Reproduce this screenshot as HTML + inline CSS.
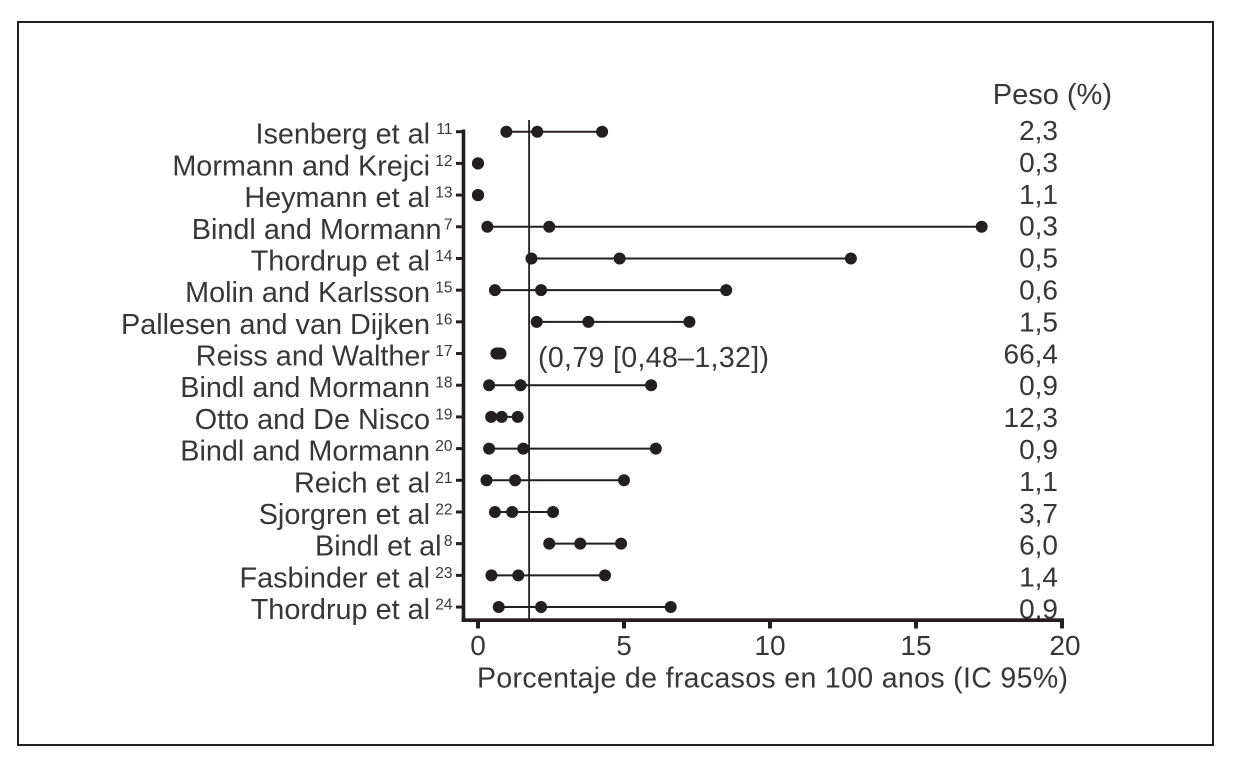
<!DOCTYPE html>
<html lang="es">
<head>
<meta charset="utf-8">
<title>Porcentaje de fracasos en 100 anos</title>
<style>
html,body{margin:0;padding:0;background:#fff;}
svg{display:block;}
text{font-family:"Liberation Sans",Arial,sans-serif;fill:#383737;}
</style>
</head>
<body>
<svg id="chart" width="1233" height="779" viewBox="0 0 1233 779" xmlns="http://www.w3.org/2000/svg">
  <rect x="18" y="22" width="1195" height="723" fill="#fff" stroke="#231f20" stroke-width="2"></rect>
  <text x="1112" y="104" text-anchor="end" font-size="29">Peso (%)</text>
  <text x="477" y="687.5" font-size="28.5" textLength="591" lengthAdjust="spacing">Porcentaje de fracasos en 100 anos (IC 95%)</text>
  <text x="538" y="367" font-size="28.5" textLength="231" lengthAdjust="spacing">(0,79 [0,48–1,32])</text>
</svg>
<script>
const studies = ["Isenberg et al","Mormann and Krejci","Heymann et al","Bindl and Mormann","Thordrup et al","Molin and Karlsson","Pallesen and van Dijken","Reiss and Walther","Bindl and Mormann","Otto and De Nisco","Bindl and Mormann","Reich et al","Sjorgren et al","Bindl et al","Fasbinder et al","Thordrup et al"];
const refs = ["11","12","13","7","14","15","16","17","18","19","20","21","22","8","23","24"];
const lows = [0.97,0,0,0.32,1.83,0.58,2.01,0.63,0.38,0.45,0.38,0.29,0.58,2.44,0.46,0.71];
const points = [2.03,0,0,2.44,4.85,2.16,3.78,0.70,1.46,0.81,1.55,1.27,1.17,3.5,1.38,2.16];
const highs = [4.25,0,0,17.25,12.77,8.5,7.24,0.77,5.93,1.36,6.09,5.0,2.57,4.9,4.35,6.6];
const weights = ["2,3","0,3","1,1","0,3","0,5","0,6","1,5","66,4","0,9","12,3","0,9","1,1","3,7","6,0","1,4","0,9"];
const xTicks = [0,5,10,15,20];
const pooledValue = 1.75;

const NS = "http://www.w3.org/2000/svg";
const svg = document.getElementById("chart");
function xScale(v){ return 478 + v * 29.2; }
function yScale(i){ return 131.7 + i * 31.69; }
function make(tag, attrs, text){
  const el = document.createElementNS(NS, tag);
  for (const k in attrs) el.setAttribute(k, attrs[k]);
  if (text !== undefined) el.textContent = text;
  svg.appendChild(el);
  return el;
}
const INK = "#231f20";

/* weight column sits under the axis line */
weights.forEach(function(w, i){
  const el = make("text", {x:1058, y:140 + i * 31.9, "text-anchor":"end", "font-size":28}, w);
  
  
});

/* study labels and reference superscripts */
studies.forEach(function(s, i){
  const y = yScale(i);
  const lab = make("text", {x: refs[i].length === 1 ? 441.5 : 430, y: y + 12, "text-anchor":"end", "font-size":28.8}, s);
  
  
  const sup = make("text", {x:452.5, y: y + 2.5, "text-anchor":"end", "font-size":15.5}, refs[i]);
  
  
  const tick = make("rect", {x:456, y: y - 1.5, width:7, height:3, fill:INK});
  
  
});

/* x ticks and labels */
xTicks.forEach(function(t){
  const x = xScale(t);
  const tick = make("rect", {x: x - 2, y:620, width:4, height:8.5, fill:INK});
  
  
  const lab = make("text", {x: x + (t === 20 ? 3 : 0), y:655, "text-anchor":"middle", "font-size":28}, String(t));
  
  
});

/* axis lines */
const yAxis = make("rect", {x:461.7, y:129.5, width:3.6, height:492.5, fill:INK});


const xAxis = make("rect", {x:461.7, y:618.3, width: xScale(20) + 2 - 461.7, height:3.7, fill:INK});



/* pooled estimate reference line */
const refLine = make("line", {x1: xScale(pooledValue), x2: xScale(pooledValue), y1:120, y2:619, stroke:INK, "stroke-width":1.8});



/* confidence intervals and markers */
studies.forEach(function(s, i){
  const y = yScale(i);
  const ci = make("line", {x1: xScale(lows[i]), x2: xScale(highs[i]), y1:y, y2:y, stroke:INK, "stroke-width":2});
  
  
  [lows[i], points[i], highs[i]].forEach(function(v){
    const dot = make("circle", {cx: xScale(v), cy:y, r:6, fill:INK});
    
    
  });
});
</script>
</body>
</html>
